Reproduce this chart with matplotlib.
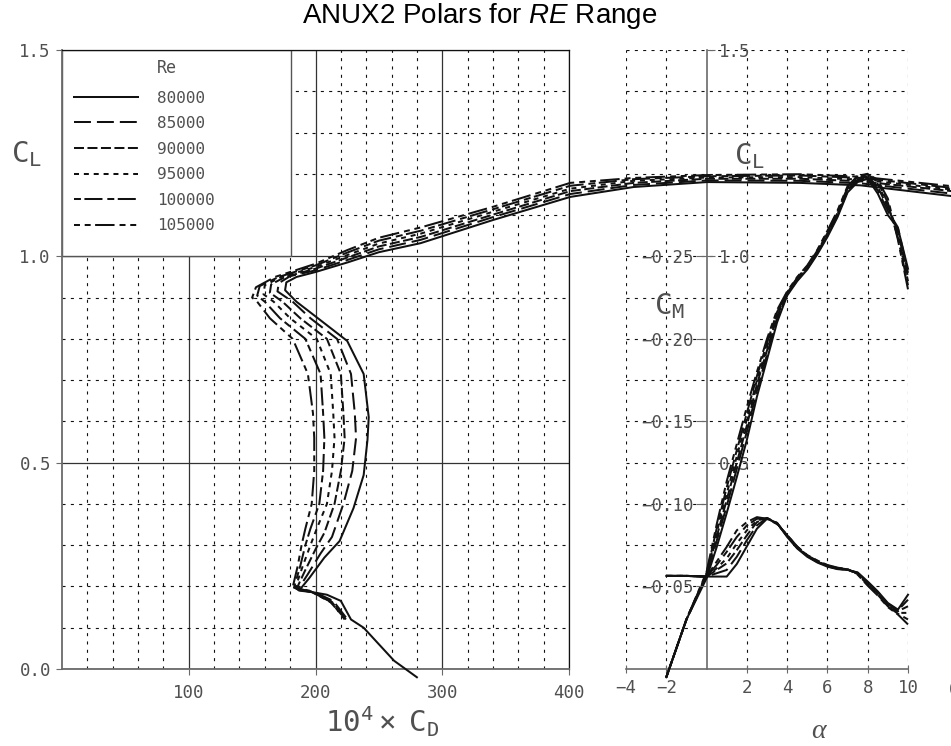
import matplotlib
matplotlib.use("Agg")
import matplotlib.pyplot as plt
from matplotlib.patches import Rectangle
from matplotlib.ticker import FixedLocator

plt.rcParams['lines.scale_dashes'] = False
plt.rcParams['font.family'] = ['DejaVu Sans Mono', 'DejaVu Sans']
plt.rcParams['mathtext.fontset'] = 'custom'
plt.rcParams['mathtext.rm'] = 'Liberation Sans'
plt.rcParams['mathtext.it'] = 'Liberation Sans:italic'

# ---------------------------------------------------------------- data
reynolds = ["80000", "85000", "90000", "95000", "100000", "105000"]

# drag polars: 10^4 * CD against CL
cd_80k = [280, 262, 247, 238, 228, 220, 209, 198, 187, 195, 207, 219, 230, 238, 241, 242, 238, 225, 204, 185, 176, 177, 185,
          200, 225, 250, 283, 340, 401, 451, 509, 582, 630, 702]
cl_80k = [-0.02, 0.02, 0.07, 0.10, 0.12, 0.165, 0.18, 0.186, 0.19, 0.22, 0.27, 0.31, 0.39, 0.47, 0.555, 0.61, 0.715, 0.795,
          0.845, 0.89, 0.918, 0.937, 0.95, 0.962, 0.985, 1.010, 1.032, 1.088, 1.144, 1.168, 1.180, 1.178, 1.172, 1.146]

cd_85k = [224, 214, 200, 186, 194, 204, 213, 222, 229, 232, 231, 228, 217, 196, 182, 170, 171, 180,
          200, 225, 250, 283, 340, 401, 451, 509, 582, 630, 702]
cl_85k = [0.125, 0.165, 0.185, 0.192, 0.23, 0.28, 0.32, 0.40, 0.48, 0.56, 0.62, 0.715, 0.80, 0.85, 0.89, 0.915, 0.935, 0.952,
          0.966, 0.991, 1.017, 1.040, 1.095, 1.151, 1.173, 1.184, 1.183, 1.177, 1.152]

cd_90k = [222, 212, 198, 185, 192, 200, 207, 215, 220, 223, 222, 220, 209, 188, 174, 164, 165, 176,
          200, 225, 250, 283, 340, 401, 451, 509, 582, 630, 702]
cl_90k = [0.13, 0.165, 0.186, 0.194, 0.24, 0.29, 0.33, 0.40, 0.48, 0.56, 0.62, 0.715, 0.80, 0.85, 0.89, 0.912, 0.932, 0.95,
          0.970, 0.997, 1.024, 1.047, 1.101, 1.158, 1.178, 1.188, 1.188, 1.182, 1.158]

cd_95k = [223, 213, 197, 184, 190, 196, 201, 209, 213, 215, 214, 212, 201, 180, 167, 159, 160, 173,
          200, 225, 250, 283, 340, 401, 451, 509, 582, 630, 702]
cl_95k = [0.12, 0.16, 0.187, 0.196, 0.25, 0.30, 0.34, 0.40, 0.48, 0.56, 0.62, 0.715, 0.80, 0.85, 0.89, 0.908, 0.93, 0.95,
          0.974, 1.003, 1.031, 1.055, 1.108, 1.164, 1.183, 1.191, 1.192, 1.186, 1.162]

cd_100k = [221, 211, 196, 183, 188, 192, 196, 203, 206, 207, 206, 204, 192, 172, 160, 154, 156, 171,
           200, 225, 250, 283, 340, 401, 451, 509, 582, 630, 702]
cl_100k = [0.13, 0.165, 0.188, 0.197, 0.25, 0.30, 0.34, 0.40, 0.48, 0.56, 0.62, 0.715, 0.80, 0.85, 0.89, 0.905, 0.928, 0.95,
           0.978, 1.009, 1.038, 1.062, 1.114, 1.171, 1.187, 1.194, 1.196, 1.190, 1.166]

cd_105k = [224, 214, 195, 182, 186, 189, 192, 197, 199, 199, 198, 194, 182, 164, 154, 150, 153, 168,
           200, 225, 250, 283, 340, 401, 451, 509, 582, 630, 702]
cl_105k = [0.12, 0.16, 0.19, 0.198, 0.25, 0.30, 0.34, 0.40, 0.48, 0.56, 0.62, 0.715, 0.80, 0.85, 0.89, 0.90, 0.925, 0.95,
           0.982, 1.015, 1.045, 1.070, 1.120, 1.178, 1.190, 1.197, 1.199, 1.193, 1.170]

# lift and pitching moment against angle of attack (deg)
alpha_deg = [-2.0, -1.0, 0.0, 0.5, 1.0, 1.5, 2.0, 2.5, 3.0, 3.5, 4.0, 4.5, 5.0, 5.5, 6.0, 6.5, 7.0, 7.5, 8.0, 8.5,
             9.0, 9.5, 10.0]

cla_80k = [-0.02, 0.12, 0.22, 0.295, 0.378, 0.465, 0.555, 0.66, 0.75, 0.84, 0.905, 0.94, 0.968, 1.005, 1.047, 1.095,
           1.155, 1.18, 1.188, 1.152, 1.10, 1.068, 0.97]
cla_85k = [-0.02, 0.12, 0.225, 0.31, 0.395, 0.485, 0.575, 0.675, 0.762, 0.848, 0.907, 0.942, 0.970, 1.008, 1.050, 1.099,
           1.158, 1.183, 1.191, 1.160, 1.110, 1.070, 0.960]
cla_90k = [-0.02, 0.12, 0.228, 0.32, 0.41, 0.50, 0.59, 0.69, 0.772, 0.855, 0.909, 0.944, 0.972, 1.010, 1.053, 1.102,
           1.161, 1.186, 1.194, 1.168, 1.118, 1.060, 0.950]
cla_95k = [-0.02, 0.12, 0.23, 0.33, 0.425, 0.515, 0.605, 0.70, 0.78, 0.86, 0.911, 0.946, 0.974, 1.012, 1.056, 1.105,
           1.164, 1.189, 1.197, 1.175, 1.125, 1.050, 0.940]
cla_100k = [-0.02, 0.12, 0.232, 0.34, 0.44, 0.53, 0.62, 0.71, 0.79, 0.865, 0.913, 0.948, 0.976, 1.014, 1.059, 1.108,
            1.167, 1.192, 1.199, 1.180, 1.130, 1.045, 0.930]
cla_105k = [-0.02, 0.12, 0.235, 0.35, 0.455, 0.545, 0.635, 0.72, 0.80, 0.87, 0.915, 0.95, 0.978, 1.016, 1.062, 1.111,
            1.170, 1.195, 1.200, 1.185, 1.140, 1.040, 0.920]

cm_80k = [-0.0564, -0.0564, -0.056, -0.056, -0.056, -0.0636, -0.0743, -0.085, -0.091, -0.0885, -0.080, -0.073, -0.068,
          -0.0645, -0.062, -0.0605, -0.060, -0.0585, -0.053, -0.047, -0.040, -0.036, -0.045]
cm_85k = [-0.0564, -0.0564, -0.056, -0.058, -0.060, -0.068, -0.078, -0.087, -0.0915, -0.0885, -0.0805, -0.0735, -0.0683,
          -0.0648, -0.0622, -0.0607, -0.0601, -0.0583, -0.0525, -0.0465, -0.0395, -0.0355, -0.042]
cm_90k = [-0.0564, -0.0564, -0.056, -0.060, -0.064, -0.072, -0.081, -0.089, -0.0915, -0.0883, -0.0805, -0.0735, -0.0685,
          -0.065, -0.0625, -0.0608, -0.0602, -0.058, -0.052, -0.046, -0.039, -0.035, -0.038]
cm_95k = [-0.0564, -0.0564, -0.056, -0.061, -0.067, -0.076, -0.084, -0.090, -0.0913, -0.0882, -0.081, -0.074, -0.0686,
          -0.0652, -0.0626, -0.061, -0.0603, -0.0578, -0.0515, -0.0455, -0.0385, -0.034, -0.034]
cm_100k = [-0.0564, -0.0564, -0.056, -0.063, -0.071, -0.080, -0.087, -0.091, -0.0912, -0.088, -0.081, -0.074, -0.0688,
           -0.0655, -0.0628, -0.0612, -0.0604, -0.0575, -0.051, -0.045, -0.038, -0.0335, -0.030]
cm_105k = [-0.0564, -0.0564, -0.056, -0.065, -0.074, -0.084, -0.089, -0.092, -0.091, -0.0878, -0.0812, -0.0742, -0.069,
           -0.0657, -0.063, -0.0614, -0.0605, -0.0572, -0.0505, -0.0445, -0.0375, -0.033, -0.027]

cd_ticks = [100, 200, 300, 400]
cl_ticks = [0.0, 0.5, 1.0, 1.5]
alpha_ticks = [-4, -2, 2, 4, 6, 8, 10]
cm_ticks = [-0.05, -0.10, -0.15, -0.20, -0.25]

polars = [(cd_80k, cl_80k), (cd_85k, cl_85k), (cd_90k, cl_90k),
          (cd_95k, cl_95k), (cd_100k, cl_100k), (cd_105k, cl_105k)]
lift_curves = [cla_80k, cla_85k, cla_90k, cla_95k, cla_100k, cla_105k]
moment_curves = [cm_80k, cm_85k, cm_90k, cm_95k, cm_100k, cm_105k]

# ---------------------------------------------------------------- styles
line_styles = ['-', (0, (12.2, 4.3)), (0, (7.2, 2.5)), (0, (3.6, 3.5)),
               (0, (5, 2.5, 13, 3.5)), (0, (4.3, 3.4, 4.3, 3.2, 14, 3.6))]
LW = 1.45
INK = '#111111'
AXIS = '#6a6a6a'
LABEL = '#505050'
DOTS = (0, (2.2, 3.8))
TICK_FS = 12.5
LEG_FS = 11.5
BIG_FS = 21

W, H = 951, 746
fig = plt.figure(figsize=(W / 100, H / 100), dpi=100)


def frame(x0, y0, x1, y1):
    return [x0 / W, 1 - y1 / H, (x1 - x0) / W, (y1 - y0) / H]


# ---------------------------------------------------------------- alpha panel
ax_a = fig.add_axes(frame(626, 50, 908, 669), zorder=1)
ax_a.patch.set_visible(False)
ax_a.set_xlim(-4, 10)
ax_a.set_ylim(0, 1.5)
for side in ('top', 'left'):
    ax_a.spines[side].set_visible(False)
ax_a.spines['right'].set_position(('data', 0))
for side in ('right', 'bottom'):
    ax_a.spines[side].set_color(AXIS)
    ax_a.spines[side].set_linewidth(1.2)
ax_a.yaxis.tick_right()
ax_a.set_xticks(alpha_ticks)
ax_a.set_xticklabels([str(a).replace('-', '\u2212') for a in alpha_ticks])
ax_a.set_yticks([0.5, 1.0, 1.5])
ax_a.set_yticklabels(['0.5', '1.0', '1.5'])
ax_a.yaxis.set_minor_locator(FixedLocator([i / 10 for i in range(1, 15)]))
ax_a.tick_params(axis='x', direction='inout', length=6, color=AXIS, labelsize=TICK_FS,
                 labelcolor=LABEL, pad=4)
ax_a.tick_params(axis='y', which='major', direction='out', length=6, color=AXIS,
                 labelsize=TICK_FS, labelcolor=LABEL, pad=3)
ax_a.tick_params(axis='y', which='minor', length=0)
ax_a.set_axisbelow(True)
ax_a.grid(axis='x', which='major', color=INK, lw=0.8, linestyle=DOTS)
ax_a.grid(axis='y', which='both', color=INK, lw=0.8, linestyle=DOTS)

ax_m = fig.add_axes(frame(626, 50, 908, 669), zorder=1.5)
ax_m.patch.set_visible(False)
ax_m.set_xlim(-4, 10)
ax_m.set_ylim(0, -0.375)
for side in ax_m.spines:
    ax_m.spines[side].set_visible(False)
ax_m.spines['left'].set_position(('data', 0))
ax_m.set_xticks([])
ax_m.set_yticks(cm_ticks)
ax_m.set_yticklabels([f"{v:.2f}".replace('-', '\u2212') for v in cm_ticks])
ax_m.tick_params(axis='y', direction='out', length=8, color=AXIS, labelsize=TICK_FS,
                 labelcolor=LABEL, pad=1)

for style, cla, cm in zip(line_styles, lift_curves, moment_curves):
    ax_a.plot(alpha_deg, cla, color=INK, lw=LW, linestyle=style, clip_on=False, zorder=3)
    ax_m.plot(alpha_deg, cm, color=INK, lw=LW, linestyle=style, clip_on=False, zorder=3)

# ---------------------------------------------------------------- polar panel
ax_p = fig.add_axes(frame(62, 50, 569, 669), zorder=2)
ax_p.patch.set_visible(False)
ax_p.set_xlim(0, 400)
ax_p.set_ylim(0, 1.5)
for side in ('left', 'bottom'):
    ax_p.spines[side].set_color(AXIS)
    ax_p.spines[side].set_linewidth(1.3)
for side in ('top', 'right'):
    ax_p.spines[side].set_color(INK)
    ax_p.spines[side].set_linewidth(0.9)
ax_p.set_xticks(cd_ticks)
ax_p.set_xticklabels([str(v) for v in cd_ticks])
ax_p.set_yticks(cl_ticks)
ax_p.set_yticklabels([f"{v:.1f}" for v in cl_ticks])
ax_p.xaxis.set_minor_locator(FixedLocator(list(range(20, 400, 20))))
ax_p.yaxis.set_minor_locator(FixedLocator([i / 10 for i in range(1, 15)]))
ax_p.tick_params(which='major', direction='out', length=4, color=AXIS, labelsize=TICK_FS,
                 labelcolor=LABEL)
ax_p.tick_params(axis='x', which='major', pad=7)
ax_p.tick_params(axis='y', which='major', pad=4)
ax_p.tick_params(which='minor', length=0)
ax_p.set_axisbelow(True)
ax_p.grid(which='minor', color=INK, lw=0.8, linestyle=DOTS)
ax_p.grid(which='major', color='#333333', lw=0.9, linestyle='-')

# legend panel covering the upper-left grid
ax_p.add_patch(Rectangle((0, 1.0), 180.7, 0.5, facecolor='white', edgecolor='#555555',
                         lw=1.0, zorder=1.6))

polar_lines = []
for style, (cd, cl) in zip(line_styles, polars):
    ln, = ax_p.plot(cd, cl, color=INK, lw=LW, linestyle=style, clip_on=False, zorder=3)
    polar_lines.append(ln)

leg = ax_p.legend(polar_lines, reynolds, loc='upper left', bbox_to_anchor=(0.0237, 0.9345),
                  frameon=False, borderpad=0, borderaxespad=0, handlelength=4.0,
                  handletextpad=1.2, labelspacing=0.66,
                  prop={'family': 'DejaVu Sans Mono', 'size': LEG_FS}, labelcolor=LABEL)
leg.set_zorder(5)

# ---------------------------------------------------------------- texts
def ftext(x, y, s, **kw):
    fig.text(x / W, 1 - y / H, s, **kw)


ftext(480, 16, r'ANUX2 Polars for $\mathit{RE}$ Range', family='Liberation Sans', fontsize=20,
      color='black', ha='center', va='center')
ftext(157, 68, 'Re', fontsize=12, color=LABEL, ha='left', va='center')
ftext(27, 154, r'$\mathregular{C_L}$', fontsize=BIG_FS, color=LABEL, ha='center', va='center')
ftext(750, 156, r'$\mathregular{C_L}$', fontsize=BIG_FS, color=LABEL, ha='center', va='center')
ftext(670, 306, r'$\mathregular{C_M}$', fontsize=BIG_FS, color=LABEL, ha='center', va='center')
ftext(382, 722, r'$\mathregular{10^4\times\ C_D}$', fontsize=BIG_FS, color=LABEL,
      ha='center', va='center')
ftext(818, 732, '\u03b1', family=['Liberation Serif', 'DejaVu Serif'], style='italic',
      fontsize=20, color=LABEL, ha='center', va='center')
ftext(954, 690, '0', fontsize=TICK_FS, color=LABEL, ha='center', va='center')

fig.savefig('out.png', dpi=100)
